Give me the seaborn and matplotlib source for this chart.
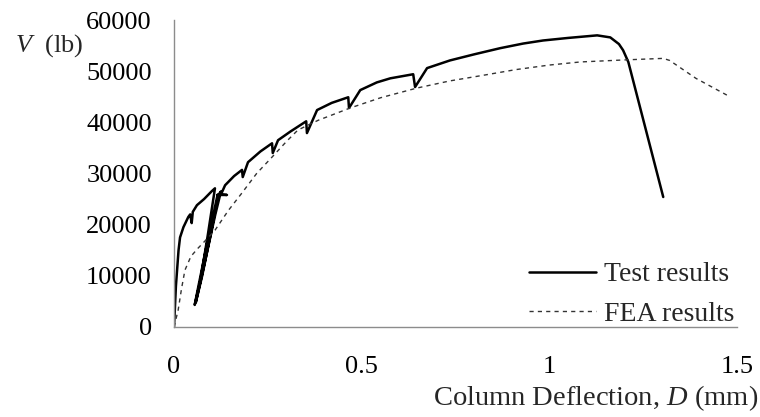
import matplotlib
matplotlib.use("Agg")
import matplotlib.pyplot as plt
import numpy as np
import pandas as pd
import seaborn as sns

# values
test_d = [0.0, 0.005, 0.012, 0.016, 0.025, 0.038, 0.043, 0.047, 0.050, 0.061,
          0.080, 0.100, 0.109, 0.090, 0.070, 0.055, 0.065, 0.090, 0.115, 0.125,
          0.110, 0.080, 0.058, 0.075, 0.100, 0.118, 0.115, 0.141, 0.125, 0.136,
          0.160, 0.181, 0.183, 0.197, 0.230, 0.261, 0.263, 0.277, 0.310, 0.352,
          0.354, 0.381, 0.420, 0.464, 0.466, 0.496, 0.540, 0.576, 0.637, 0.642,
          0.674, 0.735, 0.800, 0.869, 0.930, 0.983, 1.050, 1.127, 1.162, 1.185,
          1.196, 1.210, 1.303]
test_v = [0, 8000, 15000, 17500, 19500, 21500, 22000, 20300, 22500, 23800,
          25000, 26500, 27100, 18000, 9000, 4300, 8000, 17000, 25500, 26500,
          22000, 12000, 4800, 10000, 19000, 25800, 25800, 25800, 25900, 27700,
          29500, 30700, 29300, 32200, 34300, 35900, 34000, 36500, 38200, 40200,
          37900, 42400, 43800, 44900, 42800, 46300, 47800, 48600, 49400, 46900,
          50600, 52100, 53300, 54500, 55400, 56000, 56500, 57000, 56600, 55300,
          54100, 51800, 25400]

fea_d = [0.0, 0.011, 0.020, 0.029, 0.045, 0.064, 0.085, 0.109, 0.145, 0.181,
         0.220, 0.261, 0.300, 0.330, 0.384, 0.469, 0.550, 0.647, 0.735, 0.824,
         0.910, 1.000, 1.082, 1.200, 1.303, 1.320, 1.390, 1.473]
fea_v = [0, 3300, 7500, 11100, 13800, 15400, 17000, 18900, 22800, 26200,
         30000, 33200, 36300, 38500, 40400, 42800, 44800, 46700, 48100, 49200,
         50300, 51200, 51800, 52200, 52500, 52100, 48600, 45300]

x_ticks = [0, 0.5, 1, 1.5]
x_tick_labels = ["0", "0.5", "1", "1.5"]
y_ticks = [0, 10000, 20000, 30000, 40000, 50000, 60000]

sns.set_theme(style="white")
plt.rcParams["font.family"] = ["Liberation Serif", "DejaVu Serif"]
plt.rcParams["mathtext.fontset"] = "custom"
plt.rcParams["mathtext.rm"] = "Liberation Serif"
plt.rcParams["mathtext.it"] = "Liberation Serif:italic"

df_test = pd.DataFrame({"D": test_d, "V": test_v})
df_fea = pd.DataFrame({"D": fea_d, "V": fea_v})

fig = plt.figure(figsize=(7.6, 4.17), dpi=100)
ax = fig.add_axes([0.229, 0.216, 0.741, 0.736])

sns.lineplot(data=df_test, x="D", y="V", sort=False, estimator=None, ax=ax,
             color="black", lw=1.8, label="Test results")
sns.lineplot(data=df_fea, x="D", y="V", sort=False, estimator=None, ax=ax,
             color="#333333", lw=1.0, ls=(0, (3, 3)), label="FEA results")

ax.set_xlim(0, 1.5)
ax.set_ylim(0, 60000)
ax.set_xticks(x_ticks)
ax.set_xticklabels(x_tick_labels)
ax.set_yticks(y_ticks)
ax.set_xlabel("")
ax.set_ylabel("")
for s in ["top", "right"]:
    ax.spines[s].set_visible(False)
for s in ["left", "bottom"]:
    ax.spines[s].set_color("#8c8c8c")
    ax.spines[s].set_linewidth(1.0)
ax.tick_params(axis="both", which="major", direction="out", length=6,
               width=1.0, color="#8c8c8c", labelsize=19, labelcolor="black")
ax.tick_params(axis="y", pad=10)
ax.tick_params(axis="x", pad=15)

leg = ax.legend(loc="lower right", frameon=False, fontsize=20, handlelength=2.4,
                handletextpad=0.3, labelspacing=0.5, borderaxespad=0.0,
                bbox_to_anchor=(1.015, -0.035))

fig.text(0.02, 0.89, "$V$  (lb)", fontsize=19, ha="left", va="center")
fig.text(0.998, 0.045, "Column Deflection, $D$ (mm)", fontsize=20.5,
         ha="right", va="center")

fig.savefig("out.png", dpi=100)
